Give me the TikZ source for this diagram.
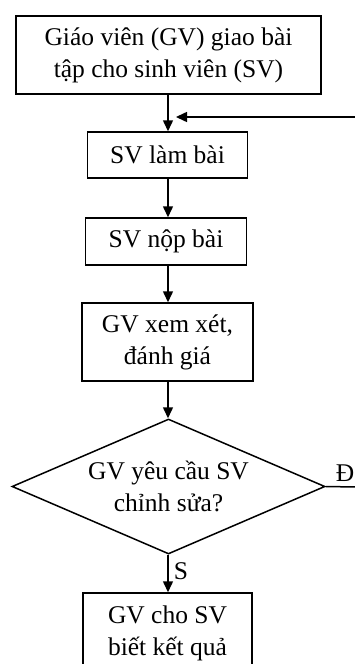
\documentclass[tikz,border=0pt]{standalone}
\usepackage{fontspec}
\setmainfont{Liberation Serif}
\usetikzlibrary{arrows.meta,shapes.geometric}
\begin{document}
\begin{tikzpicture}[x=1pt,y=-1pt,
  every node/.style={font=\fontsize{25.5}{32}\selectfont},
  box/.style={draw,line width=1.5pt,inner sep=0pt,align=center},
  arr/.style={line width=1.5pt,-{Triangle[length=11pt,width=10pt]}},
  ln/.style={line width=1.5pt}]
\useasboundingbox (0,0) rectangle (355,664);
\clip (0,0) rectangle (355,664);
\node[box,minimum width=305,minimum height=78] (b1) at (168.5,55) {Giáo viên (GV) giao bài\\tập cho sinh viên (SV)};
\node[box,minimum width=160,minimum height=46] (b2) at (167.5,155) {SV làm bài};
\node[box,minimum width=161,minimum height=47] (b3) at (166,241.5) {SV nộp bài};
\node[box,minimum width=171,minimum height=78] (b4) at (167.5,342) {GV xem xét,\\đánh giá};
\node[draw,line width=1.5pt,diamond,inner sep=0pt,minimum width=313,minimum height=135] (d) at (168.5,486.5) {};
\node[align=center,inner sep=0pt] (dt) at (168.5,486) {GV yêu cầu SV\\chỉnh sửa?};
\node[box,minimum width=169,minimum height=80] (b5) at (167.5,633) {GV cho SV\\biết kết quả};
\coordinate (fbin) at (355,117);
\coordinate (fbtip) at (176,117);
\coordinate (dout) at (356,487);
\draw[arr] (b1.south -| 168,0) -- (b2.north -| 168,0);
\draw[arr] (b2.south -| 168,0) -- (b3.north -| 168,0);
\draw[arr] (b3.south -| 168,0) -- (b4.north -| 168,0);
\draw[arr] (b4.south -| 168,0) -- (d.north -| 168,0);
\draw[arr] (d.south -| 168,0) -- (b5.north -| 168,0);
\draw[arr] (fbin) -- (fbtip);
\draw[ln] (d.east) -- (dout);
\node[anchor=center,inner sep=0pt] (lD) at (345,473) {Đ};
\node[anchor=center,inner sep=0pt] (lS) at (181,571) {S};
\end{tikzpicture}
\end{document}
